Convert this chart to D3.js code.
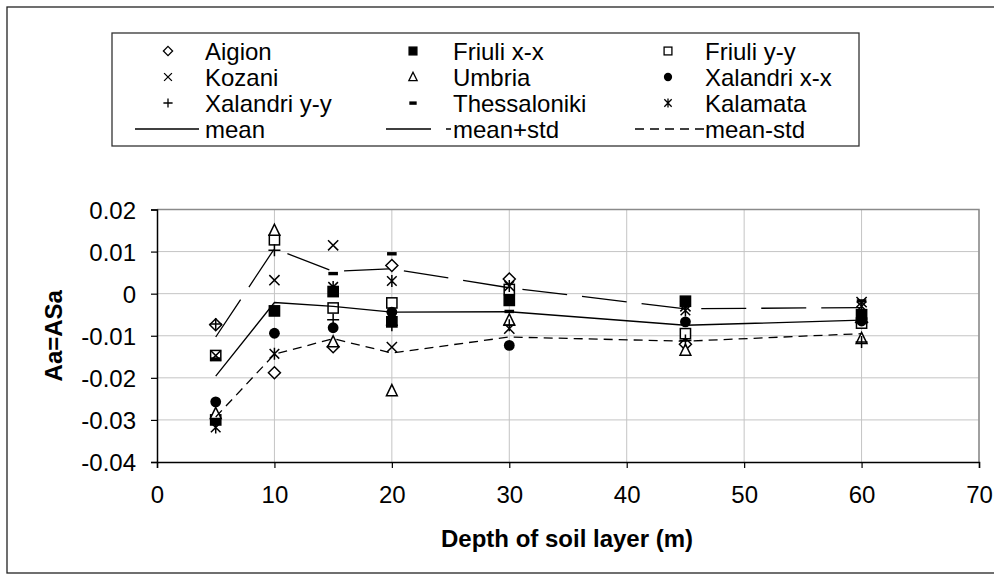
<!DOCTYPE html>
<html>
<head>
<meta charset="utf-8">
<script src="https://cdn.jsdelivr.net/npm/d3@7"></script>
<style>
  body { margin: 0; background: #fff; }
  svg { font-family: "Liberation Sans", Arial, sans-serif; }
</style>
</head>
<body>
<div id="chart"></div>
<script>
// depths of the soil layer (m)
var depths = [5, 10, 15, 20, 30, 45, 60]

// Aa=ASa values per site, one per depth (null = not shown)
var aigion       = [-0.0074, -0.0188, -0.0126,  0.0067,  0.0035, -0.0120, -0.0068]
var friuliX      = [-0.0300, -0.0041,  0.0005, -0.0067, -0.0016, -0.0018, -0.0050]
var friuliY      = [-0.0147,  0.0128, -0.0034, -0.0022,  0.0010, -0.0095, -0.0070]
var kozani       = [-0.0147,  0.0032,  0.0115, -0.0127, -0.0083, -0.0030, -0.0020]
var umbria       = [-0.0285,  0.0150, -0.0115, -0.0231, -0.0063, -0.0135, -0.0107]
var xalandriX    = [-0.0257, -0.0094, -0.0081, -0.0044, -0.0123, -0.0067, -0.0065]
var xalandriY    = [-0.0072,  0.0103, -0.0062, -0.0075, -0.0075, -0.0111, -0.0115]
var thessaloniki = [-0.0155,  null,    0.0048,  0.0095, -0.0042,  null,   -0.0017]
var kalamata     = [-0.0318, -0.0143,  0.0016,  0.0030,  0.0018, -0.0040, -0.0030]

var meanVals  = [-0.0196, -0.0021, -0.0030, -0.0044, -0.0043, -0.0075, -0.0063]
var meanPlus  = [-0.0103,  0.0107,  0.0053,  0.0059,  0.0014, -0.0036, -0.0033]
var meanMinus = [-0.0293, -0.0144, -0.0107, -0.0141, -0.0103, -0.0113, -0.0095]

var xTicks = [0, 10, 20, 30, 40, 50, 60, 70]
var yTicks = [0.02, 0.01, 0, -0.01, -0.02, -0.03, -0.04]

var pointSeries = [
    { name: "Aigion", values: aigion, marker: "diamond" },
    { name: "Friuli x-x", values: friuliX, marker: "squareFill" },
    { name: "Friuli y-y", values: friuliY, marker: "square" },
    { name: "Kozani", values: kozani, marker: "cross" },
    { name: "Umbria", values: umbria, marker: "triangle" },
    { name: "Xalandri x-x", values: xalandriX, marker: "circle" },
    { name: "Xalandri y-y", values: xalandriY, marker: "plus" },
    { name: "Thessaloniki", values: thessaloniki, marker: "dash" },
    { name: "Kalamata", values: kalamata, marker: "star" }
]
var lineSeries = [
    { name: "mean", values: meanVals, dash: null },
    { name: "mean+std", values: meanPlus, dash: "45,15" },
    { name: "mean-std", values: meanMinus, dash: "9,6" }
]

var width = 994, height = 580
var plot = { left: 157, right: 979, top: 209.5, bottom: 462 }

var svg = d3.select("#chart").append("svg")
    .attr("width", width)
    .attr("height", height)

// outer chart border (right side runs off the picture)
svg.append("rect")
    .attr("x", 7).attr("y", 7)
    .attr("width", 1010).attr("height", 566)
    .attr("fill", "none").attr("stroke", "#222").attr("stroke-width", 1.3)

var xScale = d3.scaleLinear().domain([0, 70]).range([plot.left, plot.right])
var yScale = d3.scaleLinear().domain([-0.04, 0.02]).range([plot.bottom, plot.top])

// gridlines
svg.append("g").selectAll("line.hg")
    .data(yTicks.filter(d => d > -0.04))
    .join("line")
    .attr("x1", plot.left).attr("x2", plot.right)
    .attr("y1", d => yScale(d)).attr("y2", d => yScale(d))
    .attr("stroke", "#c4c4c4").attr("stroke-width", 1)
svg.append("g").selectAll("line.vg")
    .data(xTicks.filter(d => d > 0))
    .join("line")
    .attr("x1", d => xScale(d)).attr("x2", d => xScale(d))
    .attr("y1", plot.top).attr("y2", plot.bottom)
    .attr("stroke", "#c4c4c4").attr("stroke-width", 1)

// plot border top/right
svg.append("path")
    .attr("d", "M" + plot.left + "," + plot.top + "H" + plot.right + "V" + plot.bottom)
    .attr("fill", "none").attr("stroke", "#8a8a8a").attr("stroke-width", 1.5)

// axes
var xAxis = svg.append("g")
    .attr("transform", "translate(0," + plot.bottom + ")")
    .call(d3.axisBottom(xScale).tickValues(xTicks).tickSize(6).tickPadding(18).tickFormat(d3.format("d")))
var yAxis = svg.append("g")
    .attr("transform", "translate(" + plot.left + ",0)")
    .call(d3.axisLeft(yScale).tickValues(yTicks).tickSize(6).tickPadding(15)
        .tickFormat(d => d === 0 ? "0" : String(d)))
;[xAxis, yAxis].forEach(function(ax) {
    ax.select(".domain").attr("stroke", "#000").attr("stroke-width", 1.5)
    ax.selectAll(".tick line").attr("stroke", "#000").attr("stroke-width", 1.2)
    ax.selectAll("text").attr("font-size", "24px").attr("fill", "#000")
        .attr("font-family", "Liberation Sans, Arial, sans-serif")
})
yAxis.selectAll("text").attr("dy", "0.36em")

// axis titles
svg.append("text")
    .attr("x", (plot.left + plot.right) / 2 - 1)
    .attr("y", 547)
    .attr("text-anchor", "middle")
    .attr("font-size", "24px")
    .attr("font-weight", "bold")
    .text("Depth of soil layer (m)")
svg.append("text")
    .attr("transform", "translate(62," + ((plot.top + plot.bottom) / 2) + ") rotate(-90)")
    .attr("text-anchor", "middle")
    .attr("font-size", "24px")
    .attr("font-weight", "bold")
    .text("Aa=ASa")

// marker drawing
function drawMarker(g, type, r) {
    var sw = r > 5 ? 1.5 : 1.3
    if (type == "diamond") {
        g.append("path").attr("d", "M0," + (-r) + "L" + r + ",0L0," + r + "L" + (-r) + ",0Z")
            .attr("fill", "#fff").attr("stroke", "#000").attr("stroke-width", sw)
    } else if (type == "square" || type == "squareFill") {
        var s = r * 0.85
        g.append("rect").attr("x", -s).attr("y", -s).attr("width", 2 * s).attr("height", 2 * s)
            .attr("fill", type == "square" ? "#fff" : "#000").attr("stroke", "#000").attr("stroke-width", sw)
    } else if (type == "triangle") {
        g.append("path").attr("d", "M0," + (-r * 1.05) + "L" + (r * 0.9) + "," + (r * 0.8) + "L" + (-r * 0.9) + "," + (r * 0.8) + "Z")
            .attr("fill", "#fff").attr("stroke", "#000").attr("stroke-width", sw)
    } else if (type == "circle") {
        g.append("circle").attr("r", r * 0.9).attr("fill", "#000")
    } else if (type == "cross") {
        var c = r * 0.85
        g.append("path").attr("d", "M" + (-c) + "," + (-c) + "L" + c + "," + c + "M" + (-c) + "," + c + "L" + c + "," + (-c))
            .attr("stroke", "#000").attr("stroke-width", sw)
    } else if (type == "plus") {
        g.append("path").attr("d", "M" + (-r) + ",0L" + r + ",0M0," + (-r) + "L0," + r)
            .attr("stroke", "#000").attr("stroke-width", sw)
    } else if (type == "dash") {
        g.append("rect").attr("x", -r * 0.8).attr("y", -1.6).attr("width", r * 1.6).attr("height", 3.4)
            .attr("fill", "#000")
    } else if (type == "star") {
        var a = r * 0.8
        g.append("path").attr("d", "M" + (-a) + "," + (-a) + "L" + a + "," + a + "M" + (-a) + "," + a + "L" + a + "," + (-a) + "M0," + (-r) + "L0," + r)
            .attr("stroke", "#000").attr("stroke-width", sw)
    }
}

// series points
pointSeries.forEach(function(s) {
    var pts = depths.map((d, i) => ({ x: d, y: s.values[i] })).filter(p => p.y != null)
    var gs = svg.append("g").selectAll("g")
        .data(pts)
        .join("g")
        .attr("transform", p => "translate(" + xScale(p.x) + "," + yScale(p.y) + ")")
    gs.each(function() { drawMarker(d3.select(this), s.marker, 6) })
})

// mean lines
var line = d3.line()
    .x(d => xScale(d.x))
    .y(d => yScale(d.y))
lineSeries.forEach(function(s) {
    svg.append("path")
        .datum(depths.map((d, i) => ({ x: d, y: s.values[i] })))
        .attr("d", line)
        .attr("fill", "none")
        .attr("stroke", "#000")
        .attr("stroke-width", 1.3)
        .attr("stroke-dasharray", s.dash)
})

// legend
var legend = svg.append("g")
legend.append("rect")
    .attr("x", 112).attr("y", 33)
    .attr("width", 747).attr("height", 113)
    .attr("fill", "#fff").attr("stroke", "#333").attr("stroke-width", 1.3)

var colMarker = [168, 413, 668]
var colText = [205, 453, 705]
var colLine = [[135, 199], [386, 451], [635, 704]]
var rowY = [51, 77, 103, 129]

pointSeries.forEach(function(s, i) {
    var col = i % 3, row = Math.floor(i / 3)
    var g = legend.append("g").attr("transform", "translate(" + colMarker[col] + "," + rowY[row] + ")")
    drawMarker(g, s.marker, 4.6)
    legend.append("text")
        .attr("x", colText[col]).attr("y", rowY[row] + 8.5)
        .attr("font-size", "24px")
        .text(s.name)
})
lineSeries.forEach(function(s, col) {
    legend.append("line")
        .attr("x1", colLine[col][0]).attr("x2", colLine[col][1])
        .attr("y1", rowY[3]).attr("y2", rowY[3])
        .attr("stroke", "#000").attr("stroke-width", 1.3)
        .attr("stroke-dasharray", s.dash)
    legend.append("text")
        .attr("x", colText[col]).attr("y", rowY[3] + 8.5)
        .attr("font-size", "24px")
        .text(s.name)
})
</script>
</body>
</html>
